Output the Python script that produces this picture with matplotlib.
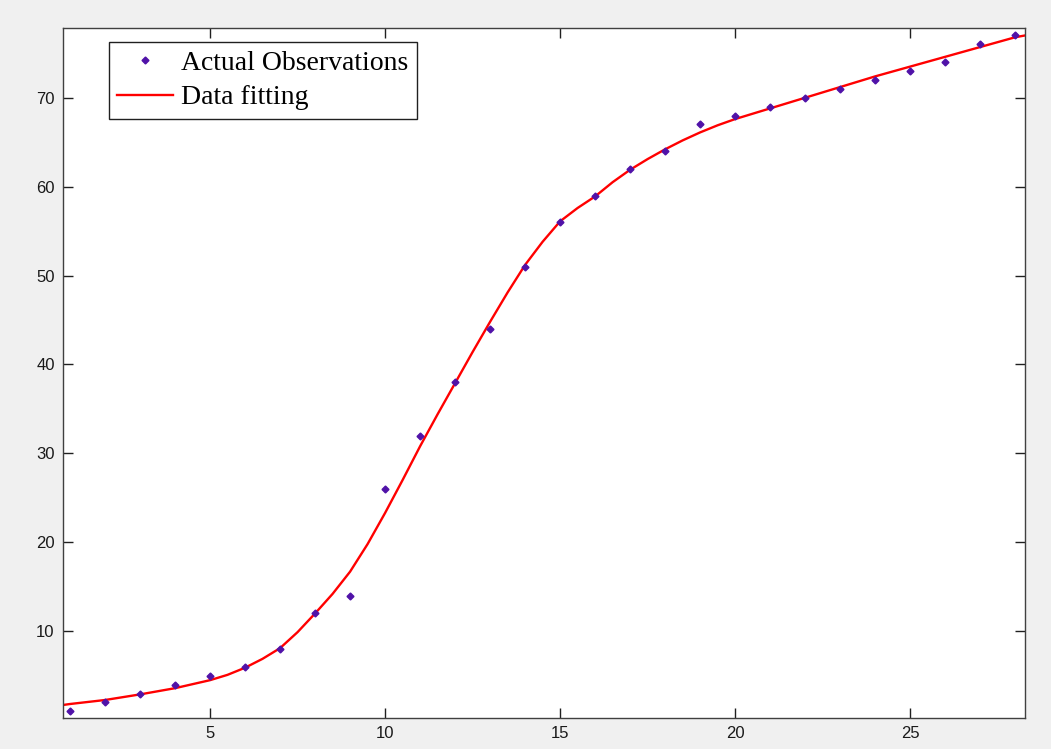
import numpy as np
import matplotlib.pyplot as plt

obs_x = list(range(1, 29))
obs_y = [1, 2, 3, 4, 5, 6, 8, 12, 14, 26, 32, 38, 44, 51, 56, 59, 62, 64, 67, 68,
         69, 70, 71, 72, 73, 74, 76, 77]

# fitted curve, sampled by eye
fit_x = [0.8, 1, 2, 3, 4, 5, 5.5, 6, 6.5, 7, 7.5, 8, 8.5, 9, 9.5, 10, 10.5, 11,
         11.5, 12, 12.5, 13, 13.5, 14, 14.5, 15, 15.5, 16, 16.5, 17, 17.5, 18,
         18.5, 19, 19.5, 20, 21, 22, 23, 24, 25, 26, 27, 28, 28.28]
fit_y = [1.71, 1.82, 2.27, 2.9, 3.6, 4.5, 5.1, 5.9, 6.9, 8.1, 9.9, 12.0, 14.2,
         16.7, 19.8, 23.3, 27.0, 30.8, 34.4, 37.9, 41.4, 44.8, 48.1, 51.2, 53.8,
         56.1, 57.6, 58.9, 60.5, 61.9, 63.1, 64.2, 65.2, 66.1, 66.9, 67.6, 68.8,
         70.0, 71.2, 72.4, 73.5, 74.6, 75.7, 76.8, 77.0]

W, H = 1051, 749
fig = plt.figure(figsize=(W / 100, H / 100), dpi=100, facecolor='#f0f0f0')
ax = fig.add_axes([63 / W, 1 - 717.7 / H, (1025 - 63) / W, (717.7 - 28) / H])
ax.set_facecolor('white')

ax.plot(obs_x, obs_y, linestyle='none', marker='D', markersize=3.5,
        color='#5012a8', label='Actual Observations', zorder=3)
ax.plot(fit_x, fit_y, color='#ff0000', linewidth=1.7, label='Data fitting', zorder=2)

ax.set_xlim(0.8, 28.28)
ax.set_ylim(0.28, 77.84)
ax.set_xticks([5, 10, 15, 20, 25])
ax.set_yticks([10, 20, 30, 40, 50, 60, 70])

for s in ax.spines.values():
    s.set_color('#404040')
    s.set_linewidth(1.0)
ax.tick_params(direction='in', length=7, width=1, color='#202020',
               top=True, right=True, labelsize=12, labelcolor='#1a1a1a', pad=6)
for lab in ax.get_xticklabels() + ax.get_yticklabels():
    lab.set_fontfamily('Liberation Sans')

leg = ax.legend(loc='upper left', bbox_to_anchor=(109 / W, 1 - 42 / H),
                bbox_transform=fig.transFigure, fancybox=False, framealpha=1,
                edgecolor='#202020', borderaxespad=0, borderpad=0.3,
                labelspacing=0.33, handlelength=2.0, handletextpad=0.3,
                prop={'family': 'Liberation Serif', 'size': 20})
leg.get_frame().set_linewidth(1.0)

fig.savefig('out.png', dpi=100, facecolor=fig.get_facecolor())
